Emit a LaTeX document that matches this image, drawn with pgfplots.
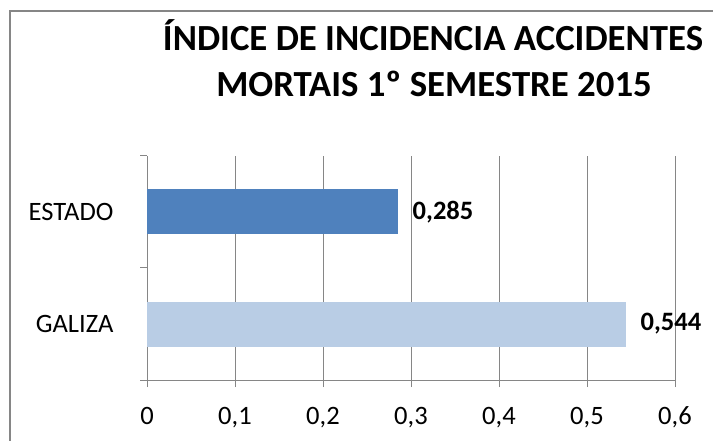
\documentclass[border=0pt]{standalone}
\usepackage{pgfplots}
\pgfplotsset{compat=1.18}
\usepackage{fontspec}
\setmainfont{Carlito}
\definecolor{estado}{HTML}{4F81BD}
\definecolor{galiza}{HTML}{B9CDE5}
\definecolor{axisgray}{HTML}{868686}
\begin{document}
\begin{tikzpicture}
\useasboundingbox (0pt,0pt) rectangle (534.75pt,-330.75pt);
\draw[axisgray, line width=0.9pt] (7.5pt,-345pt) -- (7.5pt,-8.25pt) -- (550pt,-8.25pt);
\node[font=\fontsize{27.6}{32}\selectfont\bfseries, inner sep=0pt, anchor=base] at (324.75pt,-38.25pt) {ÍNDICE DE INCIDENCIA ACCIDENTES};
\node[font=\fontsize{27.6}{32}\selectfont\bfseries, inner sep=0pt, anchor=base] at (325.5pt,-72.75pt) {MORTAIS 1º SEMESTRE 2015};
\begin{axis}[
  at={(110.25pt,-285pt)}, anchor=south west,
  scale only axis, width=396pt, height=168pt,
  xbar, bar width=33.75pt, bar shift=0pt,
  xmin=0, xmax=0.6, ymin=-0.5, ymax=1.5,
  axis lines*=left,
  axis line style={axisgray, line width=0.75pt},
  xtick={0,0.1,0.2,0.3,0.4,0.5,0.6},
  ytick={-0.5,0.5,1.5}, yticklabels={},
  extra y ticks={0,1}, extra y tick labels={GALIZA,ESTADO},
  extra y tick style={major tick length=0pt},
  xmajorgrids, major grid style={axisgray, line width=0.75pt},
  tick align=outside, major tick length=5.25pt,
  tick style={axisgray, line width=0.75pt},
  xticklabel style={font=\fontsize{19.9}{22}\selectfont, yshift=-11.5pt, /pgf/number format/.cd, use comma, fixed, precision=1, assume math mode=true},
  yticklabel style={font=\fontsize{19.9}{22}\selectfont, anchor=east, inner sep=0pt, xshift=-25pt},
  point meta=x,
  nodes near coords={\pgfmathprintnumber[fixed, fixed zerofill, precision=3, use comma, assume math mode=true]{\pgfplotspointmeta}},
  every node near coord/.append style={font=\fontsize{19.9}{22}\selectfont\bfseries, anchor=west, inner sep=0pt, xshift=11pt, text=black},
]
\addplot[draw=none, fill=galiza] coordinates {(0.544,0)};
\addplot[draw=none, fill=estado] coordinates {(0.285,1)};
\end{axis}
\end{tikzpicture}
\end{document}
